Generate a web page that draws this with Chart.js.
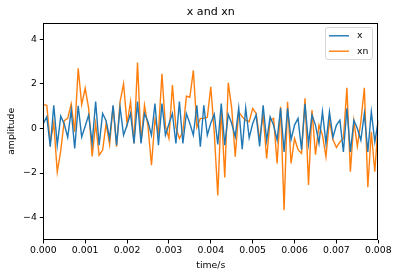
<!DOCTYPE html>
<html>
<head>
<meta charset="utf-8">
<script src="https://cdn.jsdelivr.net/npm/chart.js@4.4.1/dist/chart.umd.min.js"></script>
<style>
html,body{margin:0;padding:0;background:#fff;}
canvas{display:block;}
</style>
</head>
<body>
<canvas id="c" width="399" height="278"></canvas>
<script>
const sampleRate = 12000;
const seriesNames = ["x", "xn"];
const xValues = [
 0.22, 0.52, -0.82, 1.04, -0.75, 0.55, 0.2, -0.4, 0.82, -0.9, 1.01, -0.38,
 0.1, 0.6, -0.67, 1.2, -0.75, 0.67, 0.35, -0.45, 1.04, -0.75, 0.95, -0.3,
 0.15, 0.67, -0.67, 1.2, -0.67, 0.67, 0.3, -0.3, 1.12, -0.75, 1.12, -0.3,
 0.2, 0.67, -0.67, 1.2, -0.67, 0.67, 0.22, -0.3, 1.04, -0.82, 1.04, -0.3,
 0.25, 0.63, -0.72, 1.12, -0.75, 0.63, 0.22, -0.37, 0.92, -0.93, 0.92, -0.42,
 0.22, 0.6, -0.8, 1.04, -0.55, 0.52, 0.15, -0.52, 0.9, -1.05, 0.9, -0.5,
 0.15, 0.45, -0.95, 1.1, -0.7, 0.6, 0.15, -0.67, 0.75, -0.67, 0.75, -0.4,
 0.15, 0.37, -1.05, 0.9, -1.05, 0.37, 0.0, -0.52, 0.67, -1.05, 0.75, -0.6,
 0.37
];
const xnValues = [
 1.07, 1.04, -0.65, 0.25, -1.95, -1.0, 0.35, 0.45, 1.1, -0.15, 2.7, 1.07,
 1.8, 0.9, -1.25, 0.22, -1.2, -0.97, 0.22, -0.72, 1.0, -0.82, 1.2, 2.0,
 0.2, 1.2, -0.67, 2.95, -0.6, 1.04, 0.1, -1.65, 0.4, -0.2, 2.45, 0.1,
 -0.45, 1.94, 0.05, -0.45, -0.15, 1.45, 1.4, 2.6, 0.05, 0.45, 0.45, 0.5,
 1.87, -0.2, -3.0, 0.9, -2.2, 2.05, 0.9, -1.27, 0.75, 0.52, 0.37, 0.3,
 0.9, 0.67, -0.5, 0.6, -1.35, 0.37, 0.45, -1.57, 0.97, -3.66, 1.2, -1.57,
 -0.45, -0.95, -1.12, 1.35, -2.53, 0.82, -1.18, 0.15, -0.3, -1.27, 0.37, -0.5,
 -0.85, -0.6, -0.45, 1.82, -1.94, 0.33, -0.8, 0.3, 1.82, -2.63, -0.15, -1.94,
 0.3
];
const xTicks = [0, 0.001, 0.002, 0.003, 0.004, 0.005, 0.006, 0.007, 0.008];
const yTicks = [-4, -2, 0, 2, 4];
const titleText = "x and xn";
const xLabel = "time/s";
const yLabel = "amplitude";
const colors = ["#1f77b4", "#ff7f0e"];

const toPoints = vals => vals.map((v, i) => ({x: i / sampleRate, y: v}));

const FONT = "'DejaVu Sans', sans-serif";

const decor = {
  id: 'decor',
  afterDraw(chart) {
    const ctx = chart.ctx;
    const a = chart.chartArea;
    ctx.save();
    // frame
    ctx.strokeStyle = '#000';
    ctx.lineWidth = 1;
    ctx.strokeRect(Math.round(a.left) + 0.5, Math.round(a.top) + 0.5,
                   Math.round(a.right - a.left) - 1, Math.round(a.bottom - a.top) - 1);
    // title
    ctx.fillStyle = '#000';
    ctx.textAlign = 'center';
    ctx.textBaseline = 'middle';
    ctx.font = "11.1px " + FONT;
    ctx.fillText(titleText, (a.left + a.right) / 2, 12.5);
    // x label
    ctx.font = "9.3px " + FONT;
    ctx.fillText(xLabel, (a.left + a.right) / 2, 266);
    // y label
    ctx.save();
    ctx.translate(12, (a.top + a.bottom) / 2);
    ctx.rotate(-Math.PI / 2);
    ctx.fillText(yLabel, 0, 0);
    ctx.restore();
    // legend
    const bx = 325.5, by = 27.5, bw = 47, bh = 32, r = 2.5;
    ctx.beginPath();
    ctx.moveTo(bx + r, by);
    ctx.lineTo(bx + bw - r, by);
    ctx.arcTo(bx + bw, by, bx + bw, by + r, r);
    ctx.lineTo(bx + bw, by + bh - r);
    ctx.arcTo(bx + bw, by + bh, bx + bw - r, by + bh, r);
    ctx.lineTo(bx + r, by + bh);
    ctx.arcTo(bx, by + bh, bx, by + bh - r, r);
    ctx.lineTo(bx, by + r);
    ctx.arcTo(bx, by, bx + r, by, r);
    ctx.closePath();
    ctx.fillStyle = 'rgba(255,255,255,0.8)';
    ctx.fill();
    ctx.strokeStyle = '#d6d6d6';
    ctx.lineWidth = 1;
    ctx.stroke();
    const rows = [35.8, 51.2];
    seriesNames.forEach((name, k) => {
      ctx.strokeStyle = colors[k];
      ctx.lineWidth = 1.4;
      ctx.beginPath();
      ctx.moveTo(329, rows[k]);
      ctx.lineTo(349, rows[k]);
      ctx.stroke();
      ctx.fillStyle = '#000';
      ctx.textAlign = 'left';
      ctx.textBaseline = 'middle';
      ctx.font = "9.3px " + FONT;
      ctx.fillText(name, 357, rows[k]);
    });
    ctx.restore();
  }
};

new Chart(document.getElementById('c'), {
  type: 'line',
  data: {
    datasets: [
      {label: seriesNames[0], data: toPoints(xValues), borderColor: colors[0], borderWidth: 1.4, pointRadius: 0, tension: 0, fill: false},
      {label: seriesNames[1], data: toPoints(xnValues), borderColor: colors[1], borderWidth: 1.4, pointRadius: 0, tension: 0, fill: false}
    ]
  },
  options: {
    responsive: false,
    animation: false,
    devicePixelRatio: 1,
    layout: {padding: {left: 0, right: 20.7, top: 22.7, bottom: 0}},
    plugins: {legend: {display: false}, title: {display: false}, tooltip: {enabled: false}},
    scales: {
      x: {
        type: 'linear', min: 0, max: 0.008,
        afterBuildTicks: s => { s.ticks = xTicks.map(v => ({value: v})); },
        afterFit: s => { s.height = 38; },
        grid: {drawOnChartArea: false, drawTicks: true, tickLength: 3.5, color: '#000', tickColor: '#000'},
        border: {display: false},
        ticks: {color: '#000', font: {family: FONT, size: 9.3}, padding: 2, maxRotation: 0,
                callback: v => v.toFixed(3)}
      },
      y: {
        type: 'linear', min: -5, max: 4.74,
        afterBuildTicks: s => { s.ticks = yTicks.map(v => ({value: v})); },
        afterFit: s => { s.width = 43.3; },
        grid: {drawOnChartArea: false, drawTicks: true, tickLength: 3.5, color: '#000', tickColor: '#000'},
        border: {display: false},
        ticks: {color: '#000', font: {family: FONT, size: 9.3}, padding: 3,
                callback: v => (v < 0 ? '\u2212' + Math.abs(v) : String(v))}
      }
    }
  },
  plugins: [decor]
});
</script>
</body>
</html>
